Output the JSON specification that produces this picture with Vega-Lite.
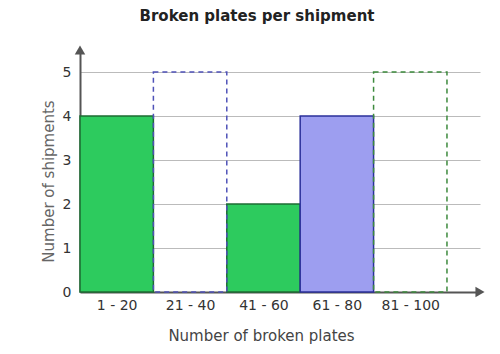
{
  "$schema": "https://vega.github.io/schema/vega-lite/v6.json",
  "autosize": {"type": "none"},
  "width": 400,
  "height": 242,
  "padding": {"left": 80, "top": 50, "right": 20, "bottom": 62},
  "background": "white",
  "config": {
    "font": "DejaVu Sans",
    "view": {"stroke": null}
  },
  "title": {
    "text": "Broken plates per shipment",
    "fontSize": 15,
    "fontWeight": "bold",
    "color": "#222",
    "anchor": "middle",
    "dx": -23,
    "offset": 21
  },
  "layer": [
    {
      "data": {
        "values": [
          {"label": "1 - 20", "start": 0, "end": 1, "count": 4, "kind": "green"},
          {"label": "41 - 60", "start": 2, "end": 3, "count": 2, "kind": "green"},
          {"label": "61 - 80", "start": 3, "end": 4, "count": 4, "kind": "blue"},
          {"label": "21 - 40", "start": 1, "end": 2, "count": 5, "kind": "empty-blue"},
          {"label": "81 - 100", "start": 4, "end": 5, "count": 5, "kind": "empty-green"}
        ]
      },
      "mark": {"type": "bar", "strokeWidth": 1.5},
      "encoding": {
        "x": {
          "field": "start",
          "type": "quantitative",
          "scale": {"domain": [0, 5.45], "nice": false, "zero": false},
          "axis": {
            "values": [0.5, 1.5, 2.5, 3.5, 4.5],
            "labelExpr": "['1 - 20','21 - 40','41 - 60','61 - 80','81 - 100'][floor(datum.value)]",
            "grid": false,
            "ticks": false,
            "domainColor": "#555",
            "domainWidth": 2,
            "labelFontSize": 14,
            "labelColor": "#333",
            "labelPadding": 6,
            "title": "Number of broken plates",
            "titleFontSize": 15,
            "titleFontWeight": "normal",
            "titleColor": "#444",
            "titlePadding": 16,
            "titleX": 181
          }
        },
        "x2": {"field": "end"},
        "y": {
          "field": "count",
          "type": "quantitative",
          "scale": {"domain": [0, 5.5], "nice": false},
          "axis": {
            "values": [0, 1, 2, 3, 4, 5],
            "grid": true,
            "gridColor": "#bbb",
            "gridWidth": 1,
            "ticks": false,
            "domainColor": "#555",
            "domainWidth": 2,
            "labelFontSize": 14,
            "labelColor": "#333",
            "labelPadding": 9,
            "title": "Number of shipments",
            "titleFontSize": 15,
            "titleFontWeight": "normal",
            "titleColor": "#666",
            "titlePadding": 6,
            "titleY": 131
          }
        },
        "y2": {"datum": 0},
        "fill": {
          "field": "kind",
          "type": "nominal",
          "scale": {
            "domain": ["green", "blue", "empty-blue", "empty-green"],
            "range": ["#2dcb5e", "#9d9ef0", "transparent", "transparent"]
          },
          "legend": null
        },
        "stroke": {
          "field": "kind",
          "type": "nominal",
          "scale": {
            "domain": ["green", "blue", "empty-blue", "empty-green"],
            "range": ["#1d6b32", "#2a2f9a", "#4f52b8", "#3d8a3d"]
          },
          "legend": null
        },
        "strokeDash": {
          "field": "kind",
          "type": "nominal",
          "scale": {
            "domain": ["green", "blue", "empty-blue", "empty-green"],
            "range": [[1, 0], [1, 0], [5, 4], [5, 4]]
          },
          "legend": null
        }
      }
    },
    {
      "data": {
        "values": [
          {"x": 0, "y": 5.5, "dir": "up"},
          {"x": 5.45, "y": 0, "dir": "right"}
        ]
      },
      "mark": {"type": "point", "filled": true, "opacity": 1, "size": 110, "color": "#555", "clip": false},
      "encoding": {
        "x": {"field": "x", "type": "quantitative"},
        "y": {"field": "y", "type": "quantitative"},
        "shape": {
          "field": "dir",
          "type": "nominal",
          "scale": {"domain": ["up", "right"], "range": ["triangle-up", "triangle-right"]},
          "legend": null
        }
      }
    }
  ]
}
